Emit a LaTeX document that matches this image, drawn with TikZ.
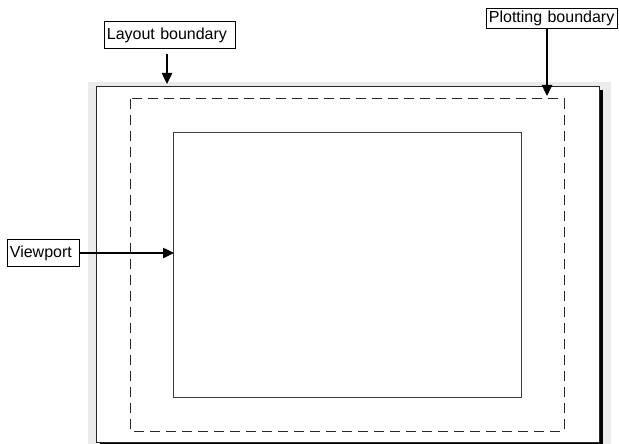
\documentclass[tikz,border=0pt]{standalone}
\usepackage{fontspec}
\setmainfont{Liberation Sans}
\usetikzlibrary{arrows.meta}
\definecolor{bggray}{RGB}{235,235,237}
\definecolor{vpline}{RGB}{60,60,60}
\tikzset{
  label box/.style={draw=black, line width=0.8pt, fill=white, inner xsep=2.5pt, inner ysep=0pt, anchor=north west,
    font=\fontsize{16}{17}\selectfont, align=left},
  pointer/.style={line width=2.4pt, -{Triangle[length=11pt,width=10pt]}},
  paper/.style={draw=black!85, line width=0.9pt, fill=white},
  plotbound/.style={draw=black!85, line width=1pt, dash pattern=on 10pt off 6pt},
  viewrect/.style={draw=vpline, line width=1pt}
}
\begin{document}
\begin{tikzpicture}[x=1pt,y=-1pt]
\useasboundingbox (0,0) rectangle (619,444);
% background and paper
\fill[bggray] (88,82) rectangle (611,444);
\fill[black] (100,90) rectangle (603,444);
\path[paper] (96,86) rectangle (599,442);
\draw[plotbound] (130,99) rectangle (564,431);
\draw[viewrect] (173,132) rectangle (521,397);
\coordinate (layouttip) at (167,84);
\coordinate (plottip) at (547,96);
\coordinate (viewtip) at (174,253);
% labels
\node[label box, text width=126pt, minimum height=27pt] (layout) at (104,21) {Layout boundary};
\node[label box, text width=126pt, minimum height=20pt] (plotting) at (486,8) {Plotting boundary};
\node[label box, text width=67pt, minimum height=27pt] (viewport) at (7,239) {Viewport};
% arrows
\draw[pointer] ([yshift=-5pt]layout.south -| layouttip) -- (layouttip);
\draw[pointer] (plotting.south -| plottip) -- (plottip);
\draw[pointer] (viewport.east |- viewtip) -- (viewtip);
\end{tikzpicture}
\end{document}
